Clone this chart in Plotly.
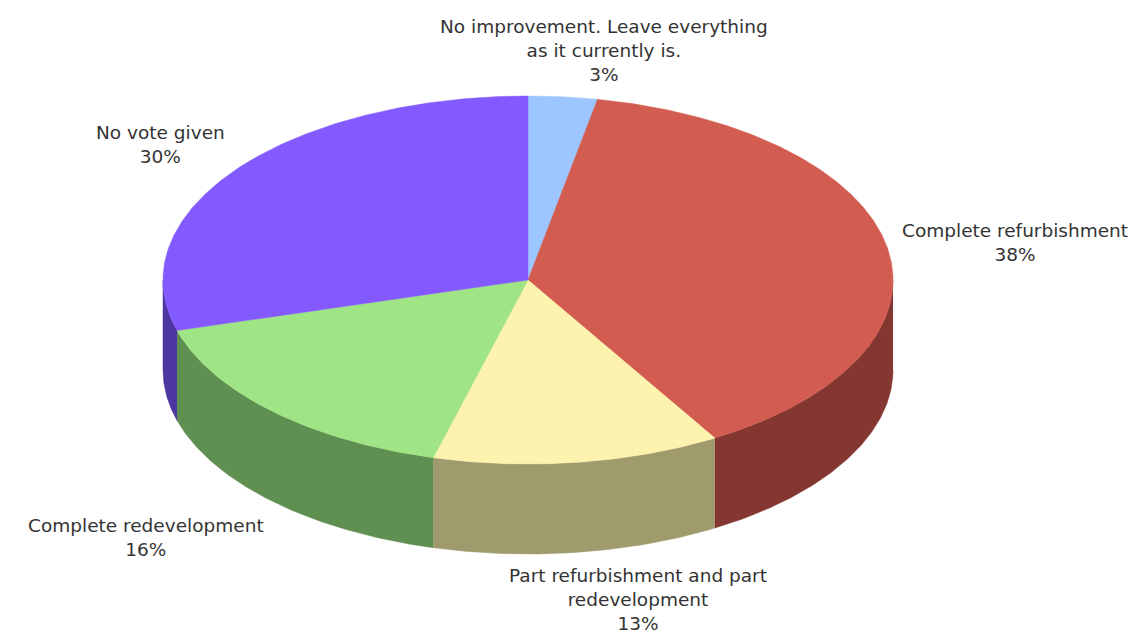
import numpy as np
import plotly.graph_objects as go

categories = ["No improvement. Leave everything<br>as it currently is.",
              "Complete refurbishment",
              "Part refurbishment and part<br>redevelopment",
              "Complete redevelopment",
              "No vote given"]
shares = [3.05, 38.4, 12.73, 16.4, 29.42]
percent_labels = [3, 38, 13, 16, 30]
top_colors = ["#9DC5FF", "#D25C50", "#FDF2AE", "#A0E585", "#825AFF"]
side_colors = ["#5F77A0", "#843730", "#A09B6D", "#608F52", "#4E36A0"]
label_x = [604, 1015, 638, 146, 160]
label_y = [50, 242, 599, 537, 144]

CX, CY, RX, RY, DEPTH = 528, 280, 365, 184, 90


def arc(a0, a1):
    t = np.radians(np.linspace(a0, a1, max(int(abs(a1 - a0) * 2), 2)))
    return CX + RX * np.sin(t), CY - RY * np.cos(t)


fig = go.Figure()
bounds = np.concatenate([[0], np.cumsum(shares)]) / sum(shares) * 360

# visible rim: only the front half of the ellipse, 90 to 270 degrees
for i in range(len(shares)):
    a0, a1 = max(bounds[i], 90), min(bounds[i + 1], 270)
    if a1 > a0:
        x, y = arc(a0, a1)
        fig.add_trace(go.Scatter(
            x=np.concatenate([x, x[::-1]]),
            y=np.concatenate([y, y[::-1] + DEPTH]),
            mode="lines", fill="toself", fillcolor=side_colors[i],
            line=dict(color=side_colors[i], width=0.5), hoverinfo="skip"))

for i in range(len(shares)):
    x, y = arc(bounds[i], bounds[i + 1])
    fig.add_trace(go.Scatter(
        x=np.concatenate([[CX], x, [CX]]),
        y=np.concatenate([[CY], y, [CY]]),
        mode="lines", fill="toself", fillcolor=top_colors[i],
        line=dict(color=top_colors[i], width=0.5),
        name=categories[i].replace("<br>", " "), hoverinfo="name"))

for i, c in enumerate(categories):
    fig.add_annotation(x=label_x[i], y=label_y[i], xref="x", yref="y",
                       text=f"{c}<br>{percent_labels[i]}%", showarrow=False,
                       align="center", xanchor="center", yanchor="middle",
                       font=dict(family="DejaVu Sans", size=18.5, color="#333333"))

fig.update_layout(
    width=1132, height=633,
    margin=dict(l=0, r=0, t=0, b=0),
    paper_bgcolor="white", plot_bgcolor="white", showlegend=False,
    xaxis=dict(range=[0, 1132], visible=False, fixedrange=True),
    yaxis=dict(range=[633, 0], visible=False, fixedrange=True))
fig.write_html("out.html", config=dict(displayModeBar=False),
               post_script="document.body.style.margin='0';document.documentElement.style.overflow='hidden';")
